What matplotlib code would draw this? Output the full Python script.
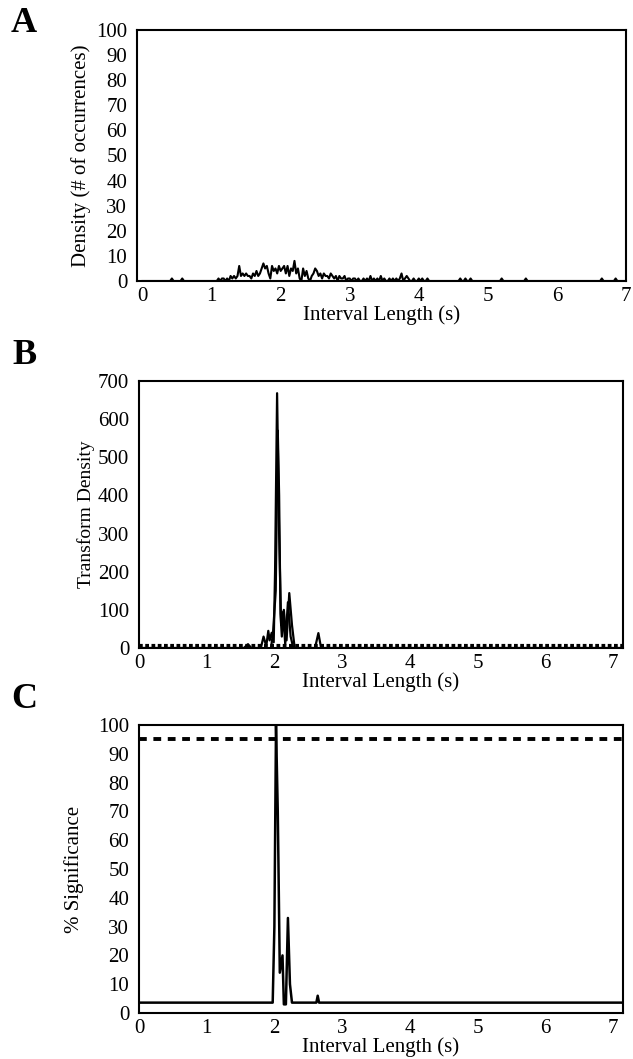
import numpy as np
import matplotlib
matplotlib.use('Agg')
import matplotlib.pyplot as plt

plt.rcParams['font.family'] = ['Liberation Serif', 'DejaVu Serif']

# panel A: histogram of interval lengths (bin width 0.025 s)
a_step = 0.025
a_dense_start = 1.05
a_dense = [0, 0, 1, 0, 1, 1, 0, 1, 0, 2, 1, 2, 1, 2, 6, 2, 3, 2, 3, 2,
           2, 1, 3, 2, 4, 2, 3, 5, 7, 5, 6, 3, 1, 6, 4, 5, 3, 6, 4, 5,
           6, 3, 6, 2, 5, 4, 8, 3, 5, 1, 0, 5, 2, 4, 1, 0, 2, 3, 5, 4,
           2, 3, 1, 3, 2, 2, 1, 3, 2, 1, 2, 0, 2, 1, 1, 2, 0, 1, 1, 0,
           1, 1, 0, 1, 0, 0, 1, 0, 1, 0, 2, 0, 1, 0, 1, 0, 2, 0, 1, 0,
           0, 1, 0, 1, 0, 1, 0, 1, 3, 0, 1, 2, 1, 0, 0, 1, 0, 0, 1, 0,
           1, 0, 0, 1, 0, 0, 0]
a_spike_x = [0.425, 0.575, 4.6, 4.675, 4.75, 5.2, 5.55, 6.65, 6.85]
a_spike_y = [1, 1, 1, 1, 1, 1, 1, 1, 1]

# panel B: transform density
b1_x = [0, 1.55, 1.61, 1.66, 1.80, 1.84, 1.88, 1.91, 1.93, 1.96, 1.99, 2.01,
        2.04, 2.07, 2.10, 2.14, 2.18, 2.22, 2.26, 2.30, 2.60, 2.65, 2.69, 7.15]
b1_y = [0, 0, 10, 0, 0, 30, 5, 45, 20, 40, 15, 200,
        668, 300, 60, 100, 20, 144, 60, 0, 0, 39, 0, 0]
b2_x = [1.95, 1.98, 2.02, 2.05, 2.07, 2.09, 2.11, 2.13, 2.16, 2.20, 2.24, 2.28]
b2_y = [0, 40, 150, 570, 400, 90, 30, 95, 10, 120, 30, 0]
b_base = 4

# panel C: % significance
c_x = [0, 1.975, 2.0, 2.024, 2.05, 2.06, 2.08, 2.12, 2.14, 2.17, 2.20, 2.23,
       2.26, 2.62, 2.64, 2.66, 7.15]
c_y = [3.6, 3.6, 30, 100, 70, 52, 14, 20, 3, 3, 33, 10,
       3.6, 3.6, 6, 3.6, 3.6]
c_threshold = 95.3

a_grid = np.round(np.arange(0, 7.0001, a_step), 3)
a_counts = np.zeros_like(a_grid)
i0 = int(round(a_dense_start / a_step))
a_counts[i0:i0 + len(a_dense)] = a_dense
for sx, sy in zip(a_spike_x, a_spike_y):
    a_counts[int(round(sx / a_step))] = sy

W, H = 633, 1059
fig = plt.figure(figsize=(W / 100, H / 100), dpi=100)


def box(l, r, t, b):
    return [l / W, 1 - b / H, (r - l) / W, (b - t) / H]


def style(ax):
    for s in ax.spines.values():
        s.set_linewidth(1.5)
    ax.tick_params(length=0, labelsize=15)
    ax.tick_params(axis='y', pad=7)
    ax.tick_params(axis='x', pad=4)
    ax.set_xlabel('Interval Length (s)', fontsize=15, labelpad=0)


axA = fig.add_axes(box(137, 626, 30, 281))
axA.plot(a_grid, a_counts, color='black', lw=1.5)
axA.set_xlim(-0.08, 7.0)
axA.set_ylim(0, 100)
axA.set_yticks(range(0, 101, 10))
axA.set_xticks(range(0, 8))
axA.set_ylabel('Density (# of occurrences)', fontsize=15, labelpad=4)
style(axA)

axB = fig.add_axes(box(139, 623, 381, 648))
axB.plot(b1_x, b1_y, color='black', lw=1.6)
axB.plot(b2_x, b2_y, color='black', lw=1.6)
axB.axhline(b_base, color='black', lw=3, ls=(0, (0.9, 0.6)))
axB.set_xlim(0, 7.15)
axB.set_ylim(0, 700)
axB.set_yticks(range(0, 701, 100))
axB.set_xticks(range(0, 8))
axB.set_ylabel('Transform Density', fontsize=14, labelpad=2)
style(axB)

axC = fig.add_axes(box(139, 623, 725, 1013))
axC.plot(c_x, c_y, color='black', lw=1.8)
axC.axhline(c_threshold, color='black', lw=2.8, ls=(0, (2.0, 1.7)))
axC.set_xlim(0, 7.15)
axC.set_ylim(0, 100)
axC.set_yticks(range(0, 101, 10))
axC.set_xticks(range(0, 8))
axC.set_ylabel('% Significance', fontsize=15, labelpad=10)
style(axC)

for lab, y in [('A', 23), ('B', 355), ('C', 700)]:
    fig.text(24 / W, 1 - y / H, lab, fontsize=26, fontweight='bold',
             ha='center', va='center')

fig.savefig('out.png', dpi=100)
